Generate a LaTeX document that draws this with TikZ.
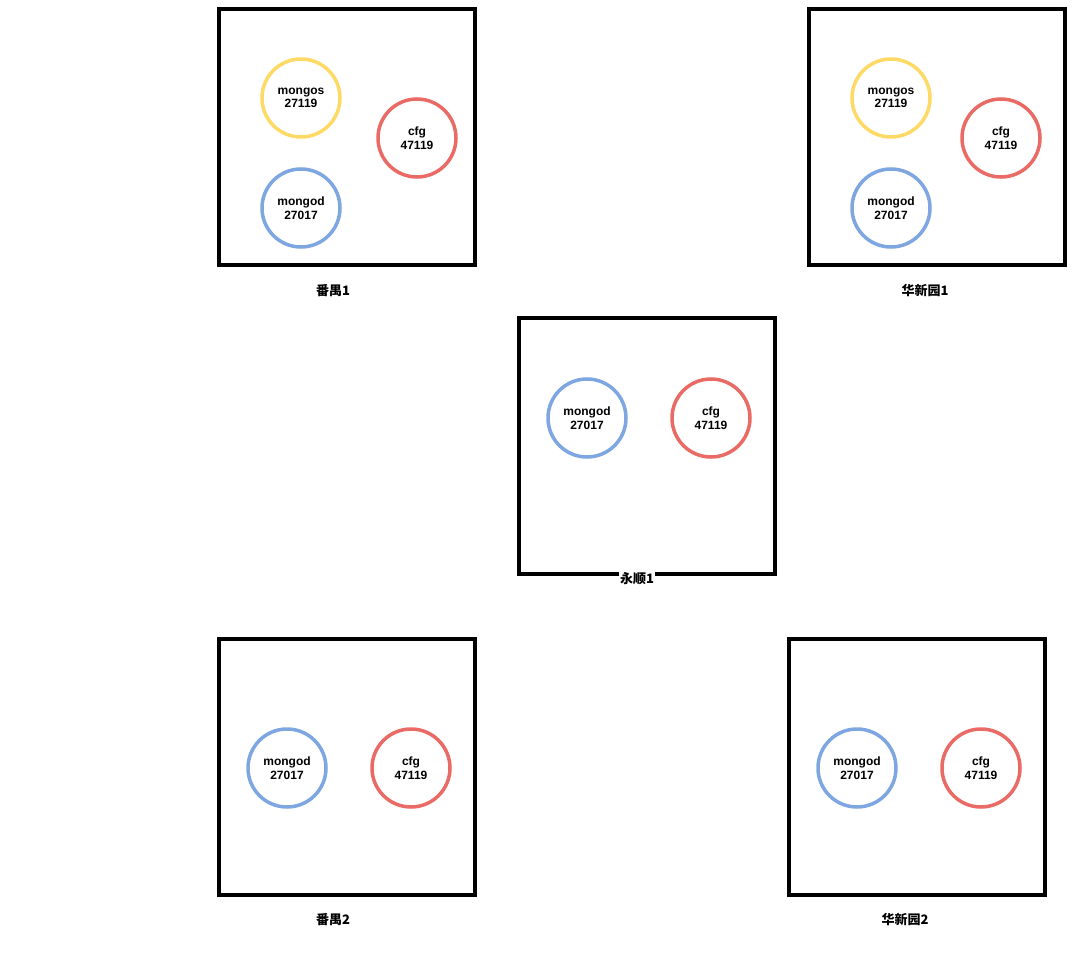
\documentclass[tikz,border=0pt]{standalone}
\usepackage{fontspec}
\setmainfont{Liberation Sans}
\newfontfamily\cjk{Noto Sans CJK SC}
\definecolor{mongosyellow}{HTML}{FFD966}
\definecolor{mongodblue}{HTML}{7EA6E0}
\definecolor{cfgred}{HTML}{EA6B66}
\tikzset{
	site/.style={draw=black,line width=4pt,minimum size=256pt,inner sep=0pt},
	proc/.style={circle,line width=3.5pt,minimum size=78pt,inner sep=0pt,align=center,
		font=\fontsize{12}{13.5}\selectfont\bfseries},
	mongosproc/.style={proc,draw=mongosyellow},
	mongodproc/.style={proc,draw=mongodblue},
	cfgproc/.style={proc,draw=cfgred},
	sitename/.style={font=\fontsize{13}{15}\selectfont\cjk\bfseries,inner sep=1pt}
}
\begin{document}
\begin{tikzpicture}[x=1pt,y=-1pt]
	\useasboundingbox (0,0) rectangle (1074,960);
	% 番禺1
	\node[site] (panyuA) at (347,137) {};
	\node[mongosproc] (panyuAs) at (301,98) {mongos\\27119};
	\node[cfgproc] (panyuAc) at (417,138) {cfg\\47119};
	\node[mongodproc] (panyuAd) at (301,208) {mongod\\27017};
	\node[sitename] (panyuAn) at (333,291) {番禺1};
	% 华新园1
	\node[site] (huaxinA) at (937,137) {};
	\node[mongosproc] (huaxinAs) at (891,98) {mongos\\27119};
	\node[cfgproc] (huaxinAc) at (1001,138) {cfg\\47119};
	\node[mongodproc] (huaxinAd) at (891,208) {mongod\\27017};
	\node[sitename] (huaxinAn) at (925,291) {华新园1};
	% 永顺1
	\node[site] (yongshunA) at (647,446) {};
	\node[mongodproc] (yongshunAd) at (587,418) {mongod\\27017};
	\node[cfgproc] (yongshunAc) at (711,418) {cfg\\47119};
	\node[sitename,fill=white] (yongshunAn) at (637,579) {永顺1};
	% 番禺2
	\node[site] (panyuB) at (347,767) {};
	\node[mongodproc] (panyuBd) at (287,768) {mongod\\27017};
	\node[cfgproc] (panyuBc) at (411,768) {cfg\\47119};
	\node[sitename] (panyuBn) at (333,920) {番禺2};
	% 华新园2
	\node[site] (huaxinB) at (917,767) {};
	\node[mongodproc] (huaxinBd) at (857,768) {mongod\\27017};
	\node[cfgproc] (huaxinBc) at (981,768) {cfg\\47119};
	\node[sitename] (huaxinBn) at (905,920) {华新园2};
\end{tikzpicture}
\end{document}
